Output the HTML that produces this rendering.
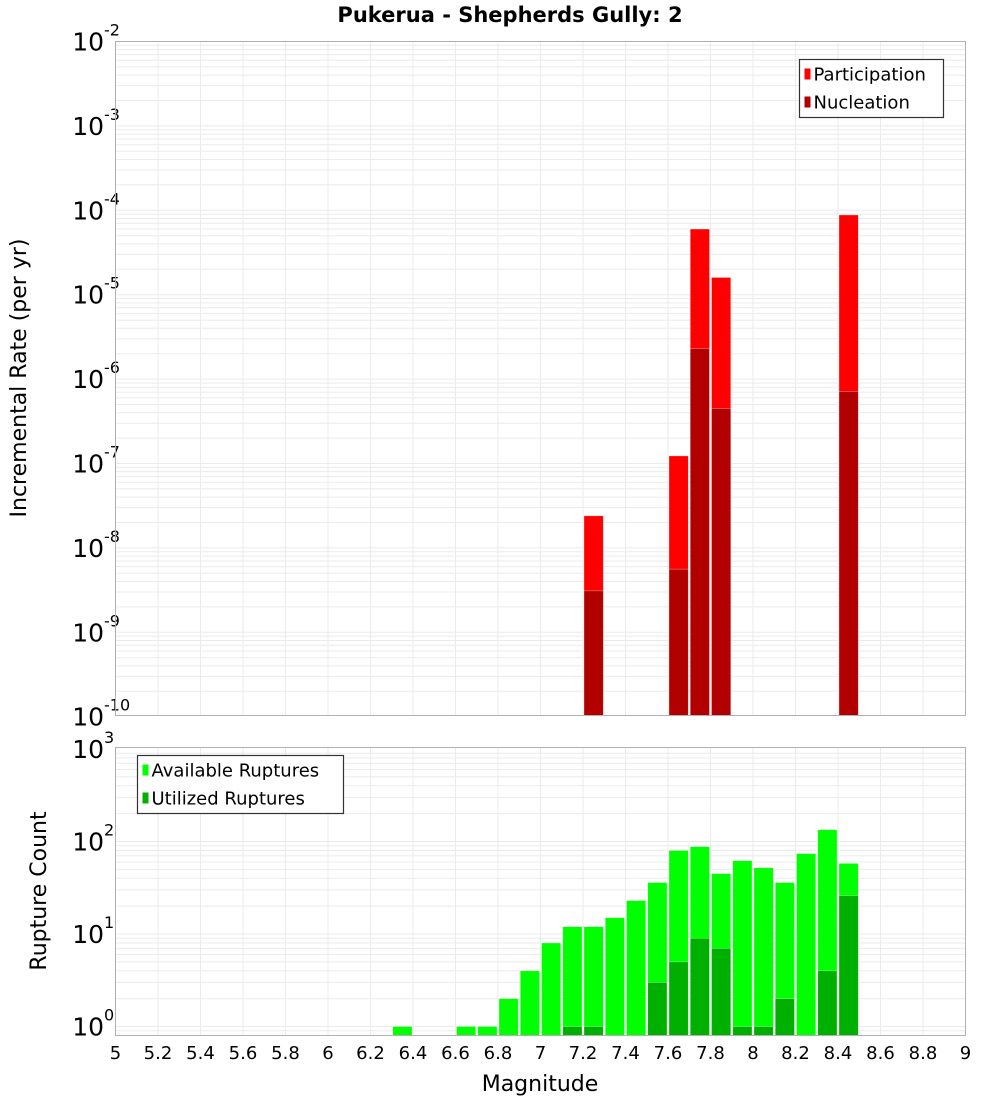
<!DOCTYPE html>
<html><head><meta charset="utf-8"><style>
body{margin:0;background:#fff;}
svg text{font-family:"DejaVu Sans","Liberation Sans",sans-serif;}
</style></head><body>
<svg id="chart" width="1000" height="1100" xmlns="http://www.w3.org/2000/svg">
<text x="510" y="22" text-anchor="middle" font-size="21" font-weight="bold">Pukerua - Shepherds Gully: 2</text>
<g id="top"></g><g id="bot"></g>
<text x="540" y="1091" text-anchor="middle" font-size="22">Magnitude</text>
<text transform="translate(26,378) rotate(-90)" text-anchor="middle" font-size="22">Incremental Rate (per yr)</text>
<text transform="translate(46,891) rotate(-90)" text-anchor="middle" font-size="22">Rupture Count</text>
</svg>
<script>
const xTicks=["5","5.2","5.4","5.6","5.8","6","6.2","6.4","6.6","6.8","7","7.2","7.4","7.6","7.8","8","8.2","8.4","8.6","8.8","9"];
const rateMags=[7.25,7.65,7.75,7.85,8.45];
const participation=[2.4e-8,1.23e-7,6.0e-5,1.6e-5,8.8e-5];
const nucleation=[3.1e-9,5.6e-9,2.3e-6,4.5e-7,7.1e-7];
const countMags=[6.35,6.65,6.75,6.85,6.95,7.05,7.15,7.25,7.35,7.45,7.55,7.65,7.75,7.85,7.95,8.05,8.15,8.25,8.35,8.45];
const available=[1,1,1,2,4,8,12,12,15,23,36,80,88,45,62,52,36,74,134,58];
const utilized=[0,0,0,0,0,0,1,1,0,0,3,5,9,7,1,1,2,0,4,26];
const topDecades=[-2,-3,-4,-5,-6,-7,-8,-9,-10];
const botDecades=[3,2,1,0];

const NS="http://www.w3.org/2000/svg";
const X0=115.5,X1=965.5;
const xs=m=>X0+(m-5)/4*(X1-X0);
const yTop=v=>41.5+(-2-Math.log10(v))*84.4;
const yBot=v=>1026.5-Math.log10(v)*92.5;
function mk(p,t,a){const e=document.createElementNS(NS,t);for(const k in a)e.setAttribute(k,a[k]);p.appendChild(e);return e;}

function panel(g,top,bot,yf,decs,name){
  mk(g,'rect',{x:X0,y:top,width:X1-X0,height:bot-top,fill:'#fff'});
  // horizontal grid
  for(const d of decs){for(let k=1;k<10;k++){const y=yf(k*Math.pow(10,d-1));if(y>top&&y<bot){const l=mk(g,'line',{x1:X0,x2:X1,y1:y,y2:y,stroke:'#ebebeb','stroke-width':1});
  
  }}}
  for(let i=1;i<xTicks.length-1;i++){const x=xs(+xTicks[i]);const l=mk(g,'line',{x1:x,x2:x,y1:top,y2:bot,stroke:'#ebebeb','stroke-width':1});
  
  }
  for(const d of decs){const y=yf(Math.pow(10,d));const t=mk(g,'text',{x:104,y:y+9,'text-anchor':'end','font-size':25});
  
  
  t.textContent='10';const s=mk(g,'text',{x:104,y:y-6,'font-size':16});
  
  
  s.textContent=String(d);}
}
function bar(g,m,v,yf,base,col,name){const w=(X1-X0)/40;const y=yf(v);const r=mk(g,'rect',{x:xs(m)-w/2+1,y:y,width:w-2,height:base-y,fill:col,stroke:'rgba(255,255,255,0.5)','stroke-width':0.6});

}

const gt=document.getElementById('top'),gb=document.getElementById('bot');
panel(gt,41.5,715.5,yTop,topDecades,'top');
rateMags.forEach((m,i)=>bar(gt,m,participation[i],yTop,715.5,'#ff0000','participation-bar'));
rateMags.forEach((m,i)=>bar(gt,m,nucleation[i],yTop,715.5,'#b20000','nucleation-bar'));
mk(gt,'rect',{x:X0,y:41.5,width:X1-X0,height:674,fill:'none',stroke:'#b0b0b0'});
panel(gb,747.5,1035.5,yBot,botDecades,'bottom');
countMags.forEach((m,i)=>{if(available[i]>0)bar(gb,m,available[i],yBot,1035.5,'#00ff00','available-bar');});
countMags.forEach((m,i)=>{if(utilized[i]>0)bar(gb,m,utilized[i],yBot,1035.5,'#00b000','utilized-bar');});
mk(gb,'rect',{x:X0,y:747.5,width:X1-X0,height:288,fill:'none',stroke:'#b0b0b0'});
xTicks.forEach(t=>{const e=mk(gb,'text',{x:xs(+t),y:1059,'text-anchor':'middle','font-size':18});


e.textContent=t;});

function legend(g,x,y,w,items,name){const L=mk(g,'g',{});


mk(L,'rect',{x:x,y:y,width:w,height:58,fill:'#fff',stroke:'#333','stroke-width':1.2});
items.forEach((it,i)=>{mk(L,'rect',{x:x+5,y:y+9+i*28,width:6,height:11,fill:it[1]});const t=mk(L,'text',{x:x+14,y:y+21+i*28,'font-size':18});


t.textContent=it[0];});}
legend(gt,799.5,59.5,144,[['Participation','#ff0000'],['Nucleation','#b20000']],'top-legend');
legend(gb,137.5,755.5,206,[['Available Ruptures','#00ff00'],['Utilized Ruptures','#00b000']],'bottom-legend');
</script>
</body></html>
